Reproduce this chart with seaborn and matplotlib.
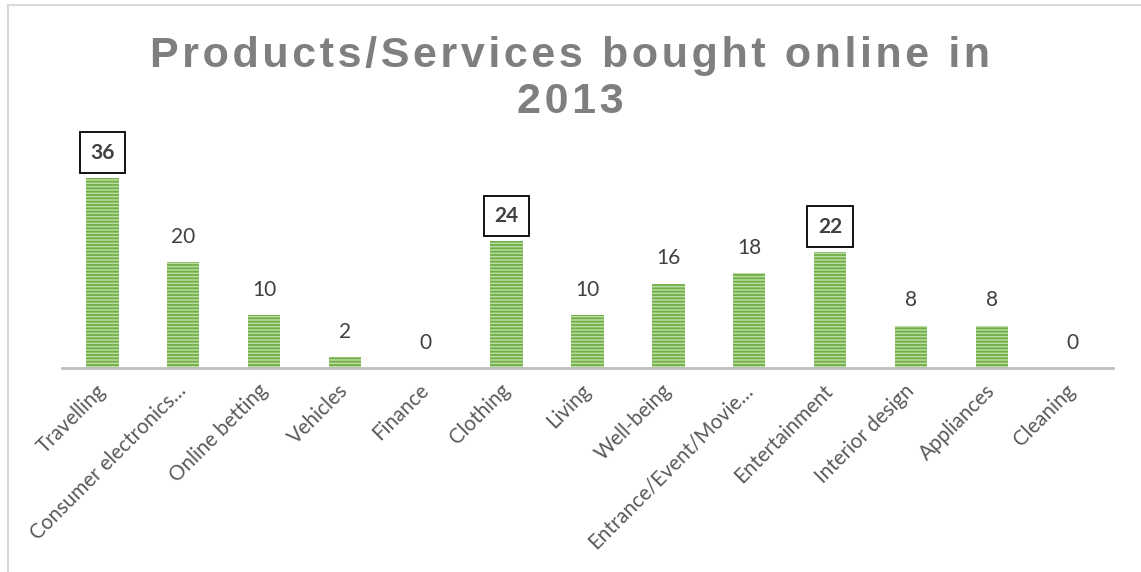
import matplotlib
matplotlib.use("Agg")
import matplotlib.pyplot as plt
import seaborn as sns
import pandas as pd
from matplotlib.lines import Line2D

categories = ["Travelling", "Consumer electronics…", "Online betting", "Vehicles",
              "Finance", "Clothing", "Living", "Well-being",
              "Entrance/Event/Movie…", "Entertainment", "Interior design",
              "Appliances", "Cleaning"]
counts = [36, 20, 10, 2, 0, 24, 10, 16, 18, 22, 8, 8, 0]
highlighted = ["Travelling", "Clothing", "Entertainment"]
title_lines = ["Products/Services bought online in", "2013"]

sns.set_theme(style="white")
plt.rcParams["font.family"] = ["Lato", "DejaVu Sans"]
plt.rcParams["hatch.linewidth"] = 1.3

df = pd.DataFrame({"category": categories, "count": counts})

W, H = 1141, 572
fig = plt.figure(figsize=(W / 100, H / 100), dpi=100)
fig.patch.set_facecolor("white")
ax = fig.add_axes([62 / W, (H - 368) / H, 1051 / W, 228 / H])

sns.barplot(data=df, x="category", y="count", ax=ax, color="#BBDDA3",
            width=0.4, saturation=1)
for p in ax.patches:
    p.set_hatch("-----")
    p.set_edgecolor("#6FAE45")
    p.set_linewidth(0)

ax.set_ylim(0, 228 / 5.28)
ax.set_xlim(-0.5, len(categories) - 0.5)
ax.set_xlabel("")
ax.set_ylabel("")
ax.set_yticks([])
for side in ("top", "left", "right"):
    ax.spines[side].set_visible(False)
ax.spines["bottom"].set_color("#BFBFBF")
ax.spines["bottom"].set_linewidth(2)

ax.set_xticks(range(len(categories)))
ax.set_xticklabels(categories, rotation=45, ha="right", va="center",
                   rotation_mode="anchor", fontsize=14.8, color="#595959")
ax.tick_params(axis="x", length=0, pad=14)

# value labels above each bar, boxed for the highlighted categories
for i, (cat, val) in enumerate(zip(categories, counts)):
    boxed = cat in highlighted
    ax.annotate(str(val), xy=(i, val), xytext=(0, 11), textcoords="offset points",
                ha="center", va="bottom", fontsize=15, color="#404040",
                fontweight="bold" if boxed else "normal",
                bbox=dict(boxstyle="square,pad=0.5", fc="white", ec="black", lw=1.3)
                if boxed else None)

# title with widened letter spacing
title_font = ["Liberation Sans", "DejaVu Sans"]
for line, yc in zip(title_lines, (56, 102)):
    fig.text(0.5, 1 - yc / H, "\u200a".join(line), ha="center", va="center",
             fontsize=31, fontweight="bold", color="#7F7F7F", family=title_font)

# chart-area frame
fig.add_artist(Line2D([8 / W, 1], [1 - 5 / H] * 2, transform=fig.transFigure,
                      color="#D9D9D9", lw=1.5))
fig.add_artist(Line2D([8 / W] * 2, [0, 1 - 5 / H], transform=fig.transFigure,
                      color="#D9D9D9", lw=1.5))

fig.savefig("out.png", dpi=100)
